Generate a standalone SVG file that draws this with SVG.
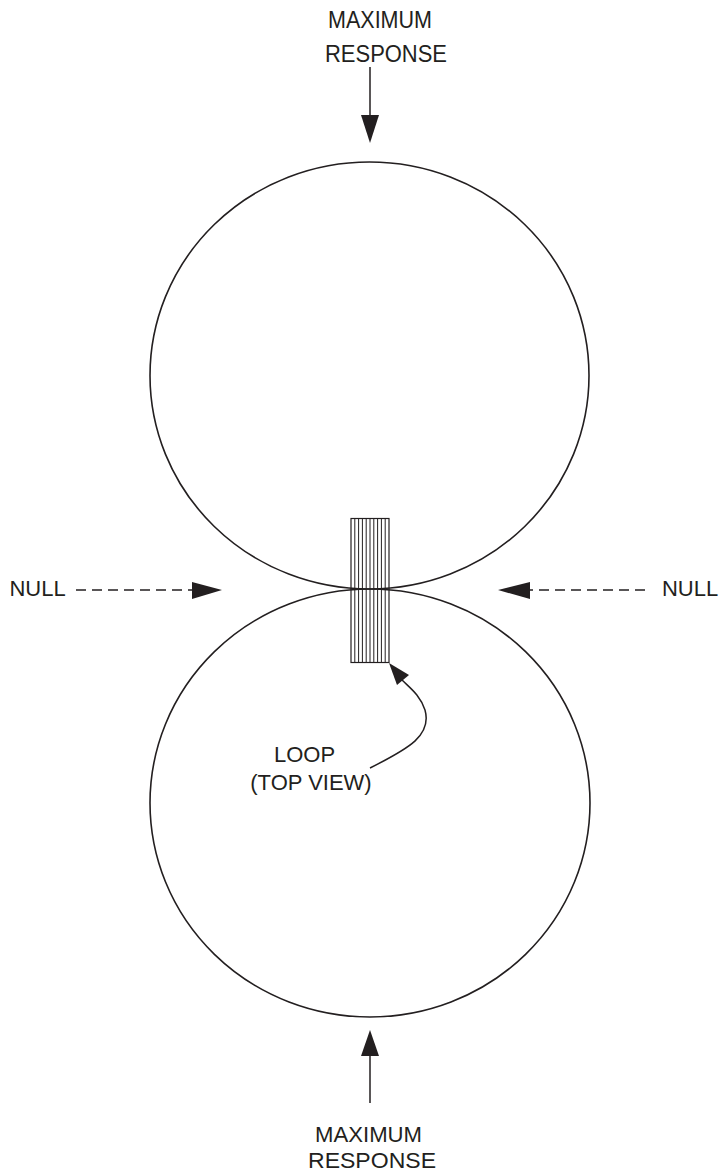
<svg xmlns="http://www.w3.org/2000/svg" width="721" height="1173" viewBox="0 0 721 1173">
<style>
.t{font-family:"Liberation Sans",Arial,sans-serif;font-size:22px;fill:#231f20;text-anchor:middle}
.b{font-size:24px}
.c{fill:none;stroke:#231f20;stroke-width:1.6}
.ln{fill:none;stroke:#231f20;stroke-width:1.5}
.d{fill:none;stroke:#231f20;stroke-width:1.3;stroke-dasharray:10 6}
.h{fill:#231f20}
.s{stroke:#231f20;stroke-width:1}
</style>
<rect width="721" height="1173" fill="#fff"/>
<g id="lobe-top"><ellipse class="c" cx="369.5" cy="375.5" rx="219.5" ry="213.5"/></g>
<g id="lobe-bottom"><ellipse class="c" cx="370" cy="803" rx="220" ry="214"/></g>
<g id="loop">
<rect x="351" y="518.5" width="38" height="144" fill="none" stroke="#231f20" stroke-width="1.2"/>
<g class="s">
<line x1="354.8" y1="518.5" x2="354.8" y2="662.5"/>
<line x1="358.6" y1="518.5" x2="358.6" y2="662.5"/>
<line x1="362.4" y1="518.5" x2="362.4" y2="662.5"/>
<line x1="366.2" y1="518.5" x2="366.2" y2="662.5"/>
<line x1="370" y1="518.5" x2="370" y2="662.5"/>
<line x1="373.8" y1="518.5" x2="373.8" y2="662.5"/>
<line x1="377.6" y1="518.5" x2="377.6" y2="662.5"/>
<line x1="381.4" y1="518.5" x2="381.4" y2="662.5"/>
<line x1="385.2" y1="518.5" x2="385.2" y2="662.5"/>
</g>
</g>
<g id="label-top">
<text class="t b" x="380" y="28" textLength="104" lengthAdjust="spacingAndGlyphs">MAXIMUM</text>
<text class="t b" x="386" y="62" textLength="122" lengthAdjust="spacingAndGlyphs">RESPONSE</text>
</g>
<g id="label-bottom">
<text class="t" x="368.5" y="1142" textLength="107" lengthAdjust="spacingAndGlyphs">MAXIMUM</text>
<text class="t" x="372" y="1168" textLength="128" lengthAdjust="spacingAndGlyphs">RESPONSE</text>
</g>
<g id="null-left"><text class="t" x="37.5" y="596">NULL</text></g>
<g id="null-right"><text class="t" x="690" y="596">NULL</text></g>
<g id="loop-label">
<text class="t" x="304.5" y="762">LOOP</text>
<text class="t" x="311" y="790">(TOP VIEW)</text>
</g>
<g id="connectors">
<line class="ln" x1="370" y1="67" x2="370" y2="116"/>
<polygon class="h" points="361,115 379,115 370,143"/>
<line class="ln" x1="370" y1="1103" x2="370" y2="1055"/>
<polygon class="h" points="361,1056 379,1056 370,1030"/>
<line class="d" x1="76" y1="590" x2="192" y2="590"/>
<polygon class="h" points="192,582 192,599 222,590"/>
<line class="d" x1="645" y1="590" x2="530" y2="590"/>
<polygon class="h" points="530,582 530,599 498,590"/>
<path class="ln" d="M370,768 C410,748 432,735 425,710 C420,695 410,688 402,680"/>
<polygon class="h" points="389,663 409,675 397,685"/>
</g>
</svg>
